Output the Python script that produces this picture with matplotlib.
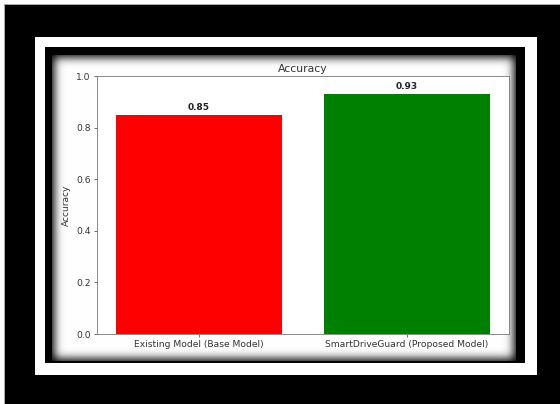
import numpy as np
import matplotlib
matplotlib.use("Agg")
import matplotlib.pyplot as plt
from math import erf

categories = ["Existing Model (Base Model)", "SmartDriveGuard (Proposed Model)"]
accuracy = [0.85, 0.93]
bar_colors = ["red", "green"]
title = "Accuracy"
ylabel = "Accuracy"

W, H = 560, 404
fig = plt.figure(figsize=(W / 100, H / 100), dpi=100)

# ---- decorative frame (background image) ----
img = np.zeros((H, W, 3))
img[:4, :, :] = 1.0
img[:, :4, :] = 1.0
img[4, 4:, :] = 0.67
img[4:, 4, :] = 0.67
img[37:375, 35:537, :] = 1.0
img[47:363, 45:525, :] = 0.0
verf = np.vectorize(erf)
xs = np.arange(W) + 0.5
ys = np.arange(H) + 0.5
s = 4.5 * np.sqrt(2)
x0, x1, y0, y1 = 52, 516, 55, 361
fx = 0.5 * (verf((xs - (x0 + 2.5)) / s) - verf((xs - (x1 - 2.5)) / s))
fy = 0.5 * (verf((ys - (y0 + 2.5)) / s) - verf((ys - (y1 - 2.5)) / s))
glow = np.outer(fy, fx)
for c in range(3):
    img[y0:y1, x0:x1, c] = glow[y0:y1, x0:x1]
bg = fig.add_axes([0, 0, 1, 1])
bg.imshow(img, aspect="auto", extent=(0, W, H, 0), interpolation="bilinear")
bg.axis("off")

# ---- chart ----
ax = fig.add_axes([97 / W, (H - 334) / H, 412 / W, 258 / H])
ax.set_facecolor("white")
bars = ax.bar(categories, accuracy, color=bar_colors)
for b, v in zip(bars, accuracy):
    ax.text(b.get_x() + b.get_width() / 2, v + 0.01, f"{v:.2f}",
            ha="center", va="bottom", fontsize=6.5, fontweight="bold", color="#222222")
ax.set_ylim(0, 1.0)
ax.set_title(title, fontsize=7.8, color="#333333", pad=3)
ax.set_ylabel(ylabel, fontsize=6.5, color="#333333", labelpad=4)
ax.tick_params(labelsize=6.6, labelcolor="#333333", length=2.5, width=0.6, pad=2, color="#555555")
for sp in ax.spines.values():
    sp.set_linewidth(0.6)
    sp.set_color("#777777")

fig.savefig("out.png", dpi=100)
